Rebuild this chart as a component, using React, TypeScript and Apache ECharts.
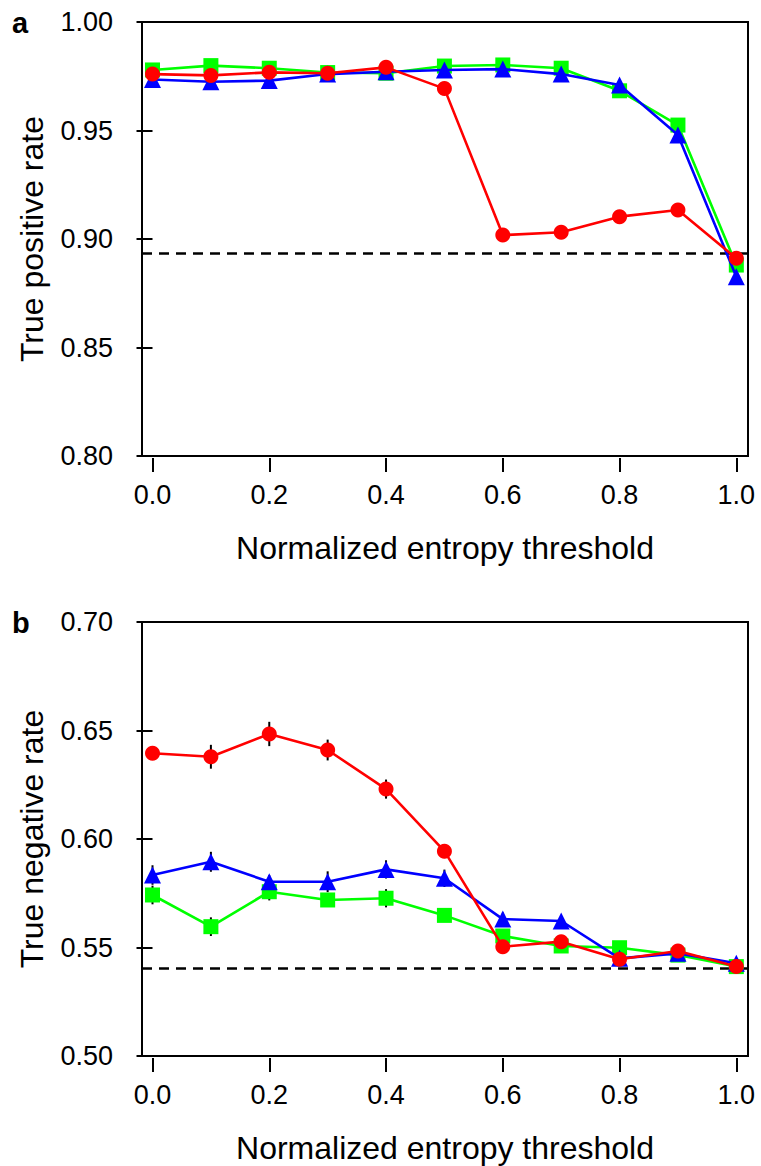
import React, { useEffect, useRef } from "react";
import * as echarts from "echarts";

const thresholds = [0.0, 0.1, 0.2, 0.3, 0.4, 0.5, 0.6, 0.7, 0.8, 0.9, 1.0];
const xTickValues = [0.0, 0.2, 0.4, 0.6, 0.8, 1.0];

// Panel a: true positive rate
const tprGreen = [0.9779, 0.9799, 0.9787, 0.9767, 0.9764, 0.9797, 0.9802, 0.9787, 0.9683, 0.9525, 0.888];
const tprBlue = [0.9735, 0.9725, 0.973, 0.976, 0.9771, 0.9779, 0.9783, 0.976, 0.971, 0.9479, 0.8826];
const tprRed = [0.976, 0.9754, 0.9768, 0.9764, 0.9791, 0.9693, 0.9018, 0.9031, 0.9103, 0.9134, 0.8911];
const tprBaseline = 0.8934;

// Panel b: true negative rate
const tnrGreen = [0.5742, 0.5596, 0.5757, 0.5719, 0.5727, 0.5648, 0.5553, 0.5507, 0.5499, 0.5465, 0.5412];
const tnrBlue = [0.5834, 0.5895, 0.5803, 0.5803, 0.586, 0.5819, 0.5631, 0.5622, 0.545, 0.5473, 0.5427];
const tnrRed = [0.6395, 0.6379, 0.6484, 0.641, 0.623, 0.5944, 0.5504, 0.5527, 0.5446, 0.5484, 0.5412];
const tnrBaseline = 0.5404;

// error half-widths (panel b)
const tnrGreenErr = [0.0043, 0.0043, 0.004, 0.003, 0.0042, 0.002, 0.002, 0.002, 0.002, 0.002, 0.002];
const tnrBlueErr = [0.0045, 0.0046, 0.003, 0.0048, 0.0042, 0.004, 0.003, 0.002, 0.002, 0.002, 0.002];
const tnrRedErr = [0.003, 0.0055, 0.0056, 0.0048, 0.0044, 0.0032, 0.002, 0.002, 0.002, 0.002, 0.002];

const FONT = "'Liberation Sans', Arial, Helvetica, sans-serif";
const GREEN = "#00ff00";
const BLUE = "#0000ff";
const RED = "#ff0000";

function pairs(ys: number[]) {
  return thresholds.map((x, i) => [x, ys[i]]);
}

function errData(ys: number[], es: number[]) {
  return thresholds.map((x, i) => [x, ys[i] - es[i], ys[i] + es[i]]);
}

function lineSeries(idx: number, ys: number[], color: string, symbol: string, size: number, z: number, baseline?: number) {
  const s: any = {
    type: "line",
    xAxisIndex: idx,
    yAxisIndex: idx,
    data: pairs(ys),
    symbol,
    symbolSize: size,
    showAllSymbol: true,
    lineStyle: { color, width: 2.6 },
    itemStyle: { color, borderWidth: 0 },
    z,
  };
  if (baseline !== undefined) {
    s.markLine = {
      silent: true,
      symbol: "none",
      precision: 4,
      label: { show: false },
      lineStyle: { color: "#000", width: 2.5, type: [10, 7] },
      data: [{ yAxis: baseline }],
      z: 1,
    };
  }
  return s;
}

function errSeries(idx: number, ys: number[], es: number[]) {
  return {
    type: "custom",
    xAxisIndex: idx,
    yAxisIndex: idx,
    data: errData(ys, es),
    z: 1,
    renderItem: (params: any, api: any) => {
      const x = api.value(0);
      const lo = api.coord([x, api.value(1)]);
      const hi = api.coord([x, api.value(2)]);
      return {
        type: "line",
        shape: { x1: lo[0], y1: lo[1], x2: hi[0], y2: hi[1] },
        style: { stroke: "#000", lineWidth: 2 },
      };
    },
  };
}

function xAxis(idx: number) {
  return {
    type: "value",
    gridIndex: idx,
    min: -0.018,
    max: 1.02,
    offset: 2,
    axisLine: { show: false },
    axisTick: { show: true, inside: false, length: 14, lineStyle: { color: "#000", width: 2 }, customValues: xTickValues },
    axisLabel: {
      show: true,
      customValues: xTickValues,
      formatter: (v: number) => v.toFixed(1),
      color: "#000",
      fontSize: 27,
      fontFamily: FONT,
      margin: 23,
    },
    splitLine: { show: false },
    name: "Normalized entropy threshold",
    nameLocation: "middle",
    nameGap: 74,
    nameTextStyle: { color: "#000", fontSize: 32, fontFamily: FONT },
  };
}

function yAxis(idx: number, min: number, max: number, name: string) {
  return {
    type: "value",
    gridIndex: idx,
    min,
    max,
    interval: 0.05,
    axisLine: { show: false },
    axisTick: { show: true, inside: false, length: 16, lineStyle: { color: "#000", width: 2 } },
    axisLabel: {
      formatter: (v: number) => v.toFixed(2),
      color: "#000",
      fontSize: 27,
      fontFamily: FONT,
      margin: 29,
    },
    splitLine: { show: false },
    name,
    nameLocation: "middle",
    nameGap: 94,
    nameTextStyle: { color: "#000", fontSize: 32, fontFamily: FONT },
  };
}

export default function App() {
  const ref = useRef<HTMLDivElement>(null);
  useEffect(() => {
    if (!ref.current) return;
    const chart = echarts.init(ref.current, null, { renderer: "svg" });
    chart.setOption({
      animation: false,
      backgroundColor: "#fff",
      grid: [
        { left: 142, top: 22, width: 606, height: 434, show: true, borderColor: "#000", borderWidth: 2, backgroundColor: "transparent" },
        { left: 142, top: 622, width: 606, height: 434, show: true, borderColor: "#000", borderWidth: 2, backgroundColor: "transparent" },
      ],
      xAxis: [xAxis(0), xAxis(1)],
      yAxis: [yAxis(0, 0.8, 1.0, "True positive rate"), yAxis(1, 0.5, 0.7, "True negative rate")],
      graphic: [
        { type: "text", left: 12, top: 8, style: { text: "a", font: `bold 29px ${FONT}`, fill: "#000" } },
        { type: "text", left: 12, top: 608, style: { text: "b", font: `bold 29px ${FONT}`, fill: "#000" } },
      ],
      series: [
        lineSeries(0, tprGreen, GREEN, "rect", 15, 2, tprBaseline),
        lineSeries(0, tprBlue, BLUE, "triangle", 17, 3),
        lineSeries(0, tprRed, RED, "circle", 15, 4),
        errSeries(1, tnrGreen, tnrGreenErr),
        errSeries(1, tnrBlue, tnrBlueErr),
        errSeries(1, tnrRed, tnrRedErr),
        lineSeries(1, tnrGreen, GREEN, "rect", 15, 2, tnrBaseline),
        lineSeries(1, tnrBlue, BLUE, "triangle", 17, 3),
        lineSeries(1, tnrRed, RED, "circle", 15, 4),
      ],
    });
    return () => chart.dispose();
  }, []);
  return <div ref={ref} style={{ position: "absolute", left: 0, top: 0, width: 761, height: 1166 }} />;
}
